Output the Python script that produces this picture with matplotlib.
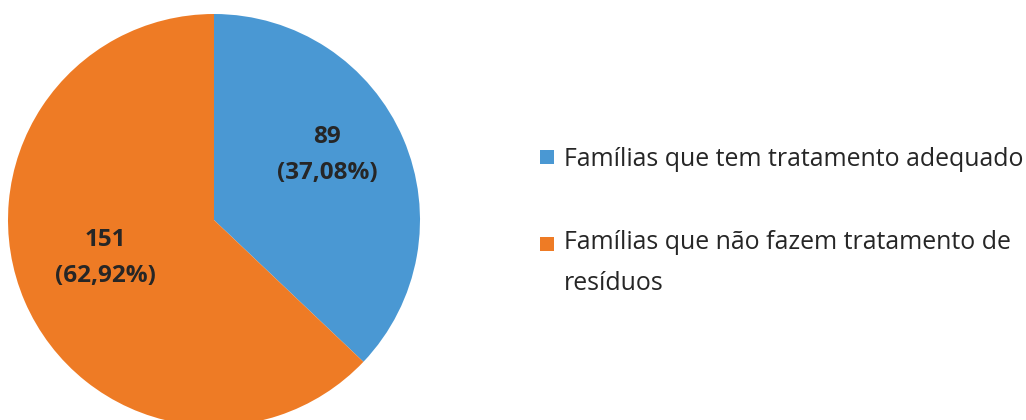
import matplotlib.pyplot as plt
from matplotlib.patches import Rectangle

# dados
categorias = ["Famílias que tem tratamento adequado",
              "Famílias que não fazem tratamento de\nresíduos"]
valores = [89, 151]
percentuais = ["37,08%", "62,92%"]
cores = ["#4A98D3", "#EE7B25"]

plt.rcParams['font.family'] = ['Open Sans', 'DejaVu Sans']

fig = plt.figure(figsize=(10.26, 4.2), dpi=100)
ax = fig.add_axes([0, 0, 1, 1])

wedges, _ = ax.pie(valores, colors=cores, startangle=90, counterclock=False,
                   center=(214, 200), radius=206, frame=True,
                   wedgeprops=dict(linewidth=0))
ax.set_xlim(0, 1026)
ax.set_ylim(0, 420)
ax.axis('off')

# rótulos dentro das fatias
pos_rotulos = [(327, 265), (105, 162)]
for (x, y), v, p in zip(pos_rotulos, valores, percentuais):
    ax.text(x, y, f"{v}\n({p})", ha='center', va='center', fontsize=17.5,
            fontweight='bold', color='#262626', linespacing=1.65)

# legenda
quad_y = [263, 176]
texto_y = [260, 157]
for qy, ty, cor, cat in zip(quad_y, texto_y, cores, categorias):
    ax.add_patch(Rectangle((540, qy - 7), 14, 14, color=cor, lw=0))
    ax.text(564, ty, cat, ha='left', va='center', fontsize=17.9,
            color='#262626', linespacing=1.8)

fig.savefig("out.png", dpi=100)
